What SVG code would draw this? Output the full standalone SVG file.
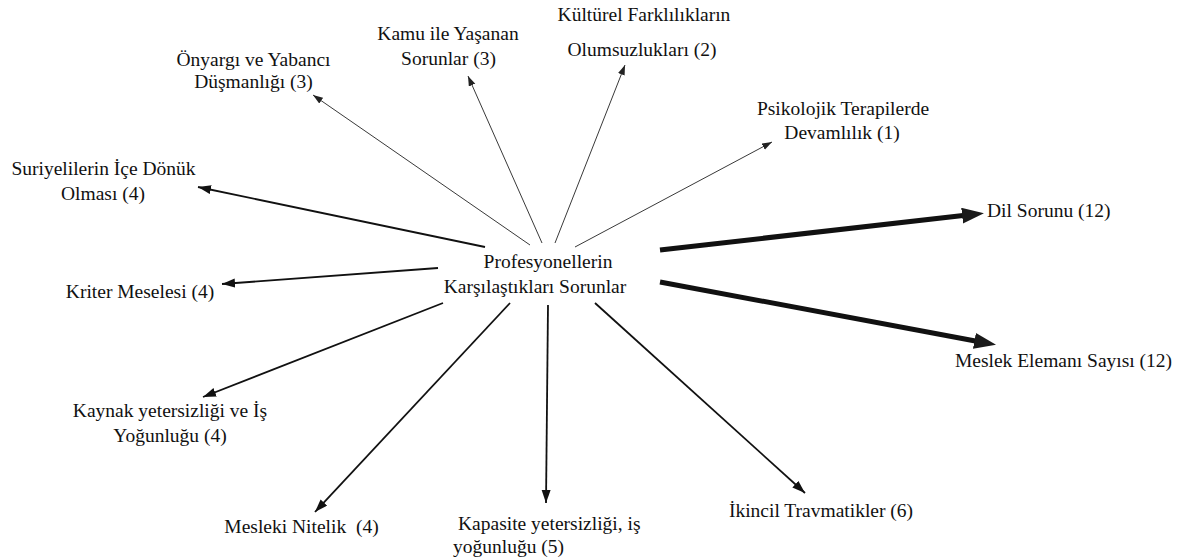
<svg xmlns="http://www.w3.org/2000/svg" width="1183" height="560" viewBox="0 0 1183 560">
<style>
.t{font-family:'Liberation Serif','DejaVu Serif','Times New Roman',serif;font-size:19.5px;fill:#111;white-space:pre}
.m{text-anchor:middle}
.thin{stroke:#222;stroke-width:0.9;fill:none;marker-end:url(#ah-thin)}
.med{stroke:#111;stroke-width:1.8;fill:none;marker-end:url(#ah-med)}
.thick{stroke:#111;stroke-width:5;fill:none;marker-end:url(#ah-thick)}
</style>
<defs>
<marker id="ah-thin" markerUnits="userSpaceOnUse" markerWidth="12" markerHeight="8" refX="10" refY="3.5" orient="auto"><path d="M0,0 L10,3.5 L0,7 Z" fill="#222"/></marker>
<marker id="ah-med" markerUnits="userSpaceOnUse" markerWidth="14" markerHeight="10" refX="13" refY="4.5" orient="auto"><path d="M0,0 L13,4.5 L0,9 Z" fill="#111"/></marker>
<marker id="ah-thick" markerUnits="userSpaceOnUse" markerWidth="24" markerHeight="18" refX="1" refY="8" orient="auto"><path d="M0,0 L22,8 L0,16 Z" fill="#1a1a1a"/></marker>
</defs>
<rect width="1183" height="560" fill="#fff"/>
<g id="connectors">
<line class="thin" x1="530" y1="245" x2="313" y2="95"/>
<line class="thin" x1="542" y1="243" x2="468" y2="76"/>
<line class="thin" x1="555" y1="243" x2="625" y2="65"/>
<line class="thin" x1="575" y1="247" x2="772" y2="142"/>
<line class="med" x1="485" y1="247" x2="198" y2="187"/>
<line class="med" x1="438" y1="268" x2="222" y2="284"/>
<line class="med" x1="443" y1="303" x2="203" y2="397"/>
<line class="med" x1="510" y1="303" x2="315" y2="512"/>
<line class="med" x1="548" y1="305" x2="546" y2="503"/>
<line class="med" x1="595" y1="303" x2="805" y2="493"/>
<line class="thick" x1="660" y1="250" x2="963.1" y2="215.5"/>
<line class="thick" x1="660" y1="282" x2="975.4" y2="341"/>
</g>
<g font-family="Liberation Serif, serif">
<g id="center">
<text class="t m" x="548" y="268">Profesyonellerin</text>
<text class="t m" x="535" y="293">Karşılaştıkları Sorunlar</text>
</g>
<g id="onyargi">
<text class="t m" x="253.5" y="66">Önyargı ve Yabancı</text>
<text class="t m" x="253.5" y="88">Düşmanlığı (3)</text>
</g>
<g id="kamu">
<text class="t m" x="448" y="40">Kamu ile Yaşanan</text>
<text class="t m" x="448.5" y="65">Sorunlar (3)</text>
</g>
<g id="kulturel">
<text class="t m" x="644" y="21">Kültürel Farklılıkların</text>
<text class="t m" x="642" y="56">Olumsuzlukları (2)</text>
</g>
<g id="psikolojik">
<text class="t m" x="843" y="115">Psikolojik Terapilerde</text>
<text class="t m" x="842" y="139">Devamlılık (1)</text>
</g>
<g id="suriyeliler">
<text class="t m" x="103.5" y="175">Suriyelilerin İçe Dönük</text>
<text class="t m" x="103" y="200">Olması (4)</text>
</g>
<g id="kriter">
<text class="t m" x="140" y="298">Kriter Meselesi (4)</text>
</g>
<g id="kaynak">
<text class="t m" x="170" y="417">Kaynak yetersizliği ve İş</text>
<text class="t m" x="170" y="442">Yoğunluğu (4)</text>
</g>
<g id="mesleki">
<text class="t m" x="301.5" y="533">Mesleki Nitelik  (4)</text>
</g>
<g id="kapasite">
<text class="t" x="458" y="530">Kapasite yetersizliği, iş</text>
<text class="t" x="453" y="553">yoğunluğu (5)</text>
</g>
<g id="ikincil">
<text class="t m" x="821" y="517">İkincil Travmatikler (6)</text>
</g>
<g id="dil">
<text class="t" x="987" y="217">Dil Sorunu (12)</text>
</g>
<g id="meslek">
<text class="t m" x="1063.5" y="367">Meslek Elemanı Sayısı (12)</text>
</g>
</g>
</svg>
